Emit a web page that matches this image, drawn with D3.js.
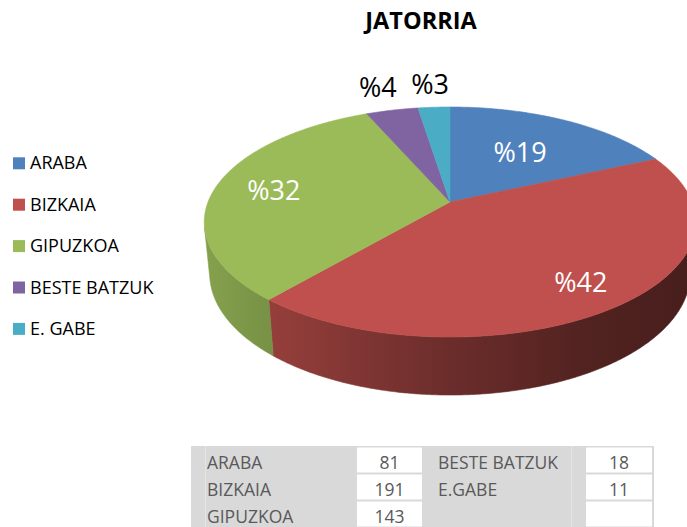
<!DOCTYPE html>
<html><head><meta charset="utf-8">
<script src="https://cdn.jsdelivr.net/npm/d3@7"></script>
<style>body{margin:0;background:#fff;overflow:hidden}</style></head>
<body><svg id="c" width="687" height="527"></svg>
<script>
// ---- data ----
const title = "JATORRIA";
const categories = ["ARABA","BIZKAIA","GIPUZKOA","BESTE BATZUK","E. GABE"];
const tableLabels = ["ARABA","BIZKAIA","GIPUZKOA","BESTE BATZUK","E.GABE"];
const values = [81,191,143,18,11];
const pctLabels = ["%19","%42","%32","%4","%3"];
const colors = ["#4F81BD","#C0504D","#9BBB59","#8064A2","#4BACC6"];

// ---- layout ----
const FONT = "'Open Sans', sans-serif";
const svg = d3.select("#c");
svg.append("rect").attr("width",687).attr("height",527).attr("fill","#fff");

// 3D perspective projection of the pie
const cx=450, cy=202, f=1234.4, D=5.101, alpha=27.45*Math.PI/180, thick=0.2428;
const ca=Math.cos(alpha), sa=Math.sin(alpha);
function proj(theta, r, y){
  const X=r*Math.sin(theta), Z=-r*Math.cos(theta);
  const Yp=y*ca - Z*sa, Zp=Z*ca + y*sa;
  const k=f/(D-Zp);
  return [cx+X*k, cy-Yp*k];
}
const arcs = d3.pie().sort(null).value(d=>d).startAngle(0).endAngle(2*Math.PI)(values);
const visA = Math.acos(-1/(ca*D)), visB = 2*Math.PI - visA;
const line = d3.line();
function rim(a,b,r,y){
  const n=Math.max(2,Math.ceil((b-a)/(Math.PI/360)));
  return d3.range(n+1).map(i=>proj(a+(b-a)*i/n,r,y));
}

// side shading by screen x
const shadeX = [205,275,440,590,700];
const shadeK = [0.86,0.77,0.57,0.42,0.37];
const defs = svg.append("defs");
colors.forEach((c,i)=>{
  const g = defs.append("linearGradient").attr("id","side"+i)
    .attr("gradientUnits","userSpaceOnUse").attr("x1",200).attr("x2",700).attr("y1",0).attr("y2",0);
  const base = d3.rgb(c);
  shadeX.forEach((x,j)=>{
    const k=shadeK[j];
    g.append("stop").attr("offset",(x-200)/500)
      .attr("stop-color", d3.rgb(base.r*k,base.g*k,base.b*k).formatHex());
  });
});

const pie = svg.append("g");
// sides
arcs.forEach((d,i)=>{
  const a=Math.max(d.startAngle,visA), b=Math.min(d.endAngle,visB);
  if(a>=b) return;
  const pts = rim(a,b,1,0).concat(rim(a,b,1,-thick).reverse());
  pie.append("path").attr("d",line(pts)+"Z")
    .attr("fill","url(#side"+i+")").attr("stroke","url(#side"+i+")").attr("stroke-width",0.6);
});
// tops
arcs.forEach((d,i)=>{
  const pts = [proj(0,0,0)].concat(rim(d.startAngle,d.endAngle,1,0));
  pie.append("path").attr("d",line(pts)+"Z")
    .attr("fill",colors[i]).attr("stroke",colors[i]).attr("stroke-width",0.6);
});
// data labels
const labelR = [0.58,0.8,0.75,1.3,1.3];
arcs.forEach((d,i)=>{
  const m=(d.startAngle+d.endAngle)/2;
  const p=proj(m,labelR[i],0);
  pie.append("text").attr("x",p[0]).attr("y",p[1]).attr("dy","0.36em")
    .attr("text-anchor","middle").attr("font-family",FONT).attr("font-size",27)
    .attr("fill", labelR[i]>1 ? "#000" : "#fff").text(pctLabels[i]);
});

// title
svg.append("text").attr("x",421).attr("y",28.5).attr("text-anchor","middle")
  .attr("font-family",FONT).attr("font-weight","bold").attr("font-size",23.5)
  .attr("fill","#000").text(title);

// legend
const lg = svg.append("g");
categories.forEach((c,i)=>{
  const y0 = 157.3 + i*41.4;
  lg.append("rect").attr("x",13).attr("y",y0).attr("width",12).attr("height",12).attr("fill",colors[i]);
  lg.append("text").attr("x",30).attr("y",y0+12).attr("font-family",FONT).attr("font-size",18)
    .attr("fill","#000").text(c);
});

// table
const tb = svg.append("g");
tb.append("rect").attr("x",191).attr("y",446).attr("width",463).attr("height",81).attr("fill","#D9D9D9");
tb.append("line").attr("x1",205.5).attr("x2",205.5).attr("y1",446).attr("y2",527).attr("stroke","#E4E4E4");
tb.append("line").attr("x1",571.5).attr("x2",571.5).attr("y1",446).attr("y2",527).attr("stroke","#E4E4E4");
const cols = [{tx:207, cell:357, w:65},{tx:438, cell:586, w:66}];
for(let col=0; col<2; col++){
  for(let r=0;r<3;r++){
    const top = 447.5 + r*27;
    tb.append("rect").attr("x",cols[col].cell).attr("y",top).attr("width",cols[col].w).attr("height",25).attr("fill","#fff");
    const idx = col*3 + r;
    if(idx < values.length){
      tb.append("text").attr("x",cols[col].tx).attr("y",top+21).attr("font-family",FONT).attr("font-size",17.5)
        .attr("fill","#595959").text(tableLabels[idx]);
      tb.append("text").attr("x",cols[col].cell+cols[col].w/2).attr("y",top+21).attr("text-anchor","middle")
        .attr("font-family",FONT).attr("font-size",17.5).attr("fill","#595959").text(values[idx]);
    }
  }
}
</script>
</body></html>
